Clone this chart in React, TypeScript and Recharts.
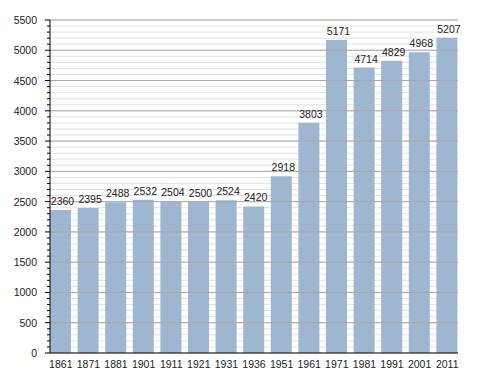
import { BarChart, Bar, XAxis, YAxis, CartesianGrid, ReferenceLine, LabelList } from "recharts";

const years = ["1861", "1871", "1881", "1901", "1911", "1921", "1931", "1936", "1951", "1961", "1971", "1981", "1991", "2001", "2011"];
const population = [2360, 2395, 2488, 2532, 2504, 2500, 2524, 2420, 2918, 3803, 5171, 4714, 4829, 4968, 5207];
const majorTicks = [0, 500, 1000, 1500, 2000, 2500, 3000, 3500, 4000, 4500, 5000, 5500];
const minorTicks = Array.from({ length: 56 }, (_, i) => i * 100);

const FONT = "'Liberation Sans', Arial, sans-serif";
const data = years.map((y, i) => ({ year: y, value: population[i] }));

// y ticks every 100: label and long mark every 500, short mark otherwise
function YTick(props: any) {
  const { x, y, payload } = props;
  const major = payload.value % 500 === 0;
  return (
    <g>
      <line x1={x} x2={major ? x - 5 : x - 3} y1={y} y2={y} stroke="#000" strokeWidth={1} />
      {major && (
        <text x={x - 13} y={y} dy={4} textAnchor="end" fontSize={10.5} fill="#222" fontFamily={FONT}>
          {payload.value}
        </text>
      )}
    </g>
  );
}

export default function App() {
  return (
    <div style={{ position: "absolute", left: 0, top: 0, width: 488, height: 373, background: "#fff" }}>
      <BarChart width={488} height={373} data={data} margin={{ top: 20, right: 30, bottom: 0, left: 0 }}>
        <CartesianGrid vertical={false} stroke="#e2e2e2" horizontalValues={minorTicks} />
        {majorTicks.slice(1).map((v) => (
          <ReferenceLine key={v} y={v} stroke="#a8a8a8" strokeWidth={1} />
        ))}
        <XAxis
          dataKey="year"
          height={20}
          interval={0}
          padding={{ left: -3, right: -3 }}
          tickLine={false}
          axisLine={{ stroke: "#000" }}
          tick={{ fontSize: 10.5, fill: "#222", fontFamily: FONT }}
          tickMargin={2}
        />
        <YAxis
          width={50}
          domain={[0, 5500]}
          ticks={minorTicks}
          interval={0}
          tickLine={false}
          tickSize={0}
          tickMargin={0}
          axisLine={{ stroke: "#000" }}
          tick={<YTick />}
        />
        <Bar dataKey="value" fill="#9fb6d1" barSize={21} isAnimationActive={false}>
          <LabelList dataKey="value" position="top" offset={5} dx={2} fontSize={10.5} fill="#222" fontFamily={FONT} />
        </Bar>
      </BarChart>
    </div>
  );
}
